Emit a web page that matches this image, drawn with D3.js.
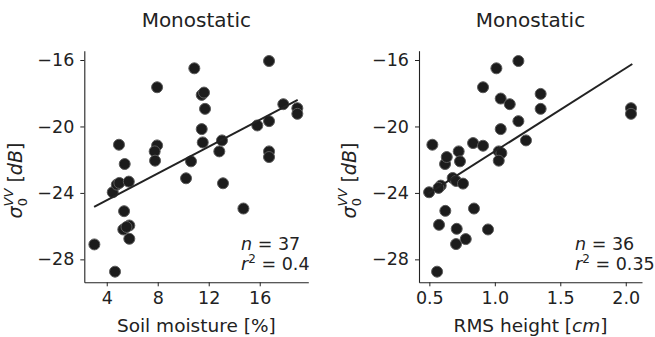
<!DOCTYPE html>
<html><head><meta charset="utf-8">
<script src="https://cdn.jsdelivr.net/npm/d3@7"></script>
<style>
body{margin:0;background:#fff;}
svg{display:block;font-family:"DejaVu Sans",sans-serif;}
</style></head>
<body>
<svg id="chart" width="655" height="337"></svg>
<script>
// ---- data ----
const soilMoisture = [3.03,4.65,4.47,4.79,4.99,4.96,5.41,5.73,5.36,5.30,5.77,5.77,5.55,7.95,7.95,7.76,7.79,10.87,10.22,10.61,11.45,11.63,11.71,11.45,11.53,13.04,12.83,13.12,14.72,15.81,16.73,16.73,16.73,16.73,17.85,18.95,18.95];
const sigmaSoil    = [-27.1,-28.74,-23.96,-23.5,-23.4,-21.1,-22.26,-23.32,-25.1,-26.2,-25.96,-26.76,-26.05,-17.64,-21.14,-21.5,-22.06,-16.5,-23.12,-22.1,-18.1,-17.96,-18.94,-20.16,-20.96,-20.84,-21.5,-23.42,-24.94,-19.94,-16.06,-19.68,-21.5,-21.84,-18.66,-18.9,-19.24];
const rmsHeight = [0.498,0.523,0.559,0.574,0.587,0.570,0.622,0.620,0.633,0.678,0.704,0.709,0.704,0.724,0.734,0.757,0.778,0.834,0.841,0.910,0.910,0.948,1.012,1.045,1.045,1.030,1.050,1.030,1.114,1.180,1.180,1.238,1.350,1.350,2.040,2.040];
const sigmaRms  = [-23.96,-21.1,-28.74,-25.92,-23.56,-23.7,-25.08,-22.26,-21.84,-23.1,-23.28,-26.16,-27.08,-21.5,-22.1,-23.44,-26.78,-21.0,-24.94,-17.64,-21.16,-26.2,-16.5,-18.32,-20.16,-21.5,-21.6,-22.06,-18.66,-16.06,-19.68,-20.84,-18.04,-18.94,-18.9,-19.24];
const fitSoilX = [3.01, 18.98], fitSoilY = [-24.84, -18.40];
const fitRmsX  = [0.492, 2.05], fitRmsY  = [-24.04, -16.24];
const soilTicks = [4, 8, 12, 16];
const rmsTicks  = [0.5, 1.0, 1.5, 2.0];
const sigmaTicks = [-16, -20, -24, -28];
const titles = ["Monostatic", "Monostatic"];
const statsN = ["37", "36"];
const statsR2 = ["0.4", "0.35"];

// ---- drawing ----
const svg = d3.select("#chart");
const FS = 17.5;
const yTop = 50.7, yBot = 282.3;
const y = d3.scaleLinear().domain([-29.38, -15.44]).range([yBot, yTop]);

const panels = [
  {x0:84.3, x1:308.3, dom:[2.24,19.81], xs:soilMoisture, ys:sigmaSoil, fx:fitSoilX, fy:fitSoilY,
   ticks:soilTicks, fmt:d3.format("d"), title:titles[0], n:statsN[0], r2:statsR2[0], xlab:"soil", ylabX:22},
  {x0:419, x1:642, dom:[0.421,2.124], xs:rmsHeight, ys:sigmaRms, fx:fitRmsX, fy:fitRmsY,
   ticks:rmsTicks, fmt:d3.format(".1f"), title:titles[1], n:statsN[1], r2:statsR2[1], xlab:"rms", ylabX:356}
];
const minus = s => s.replace("-", "\u2212");

panels.forEach(p => {
  const x = d3.scaleLinear().domain(p.dom).range([p.x0, p.x1]);
  const g = svg.append("g");

  // axes
  const xa = g.append("g").attr("transform", `translate(0,${yBot})`)
    .call(d3.axisBottom(x).tickValues(p.ticks).tickFormat(d => minus(p.fmt(d))).tickSize(4).tickPadding(5).tickSizeOuter(0));
  const ya = g.append("g").attr("transform", `translate(${p.x0},0)`)
    .call(d3.axisLeft(y).tickValues(sigmaTicks).tickFormat(d => minus(d3.format("d")(d))).tickSize(4).tickPadding(6).tickSizeOuter(0));
  [xa, ya].forEach(a => {
    a.select(".domain").attr("stroke", "#222").attr("stroke-width", 1.1);
    a.selectAll(".tick line").attr("stroke", "#222").attr("stroke-width", 1);
    a.selectAll(".tick text").attr("font-size", FS).attr("fill", "#222").attr("font-family", "DejaVu Sans");
  });

  // points
  g.append("g").selectAll("circle").data(p.xs.map((v, i) => [v, p.ys[i]])).join("circle")
    .attr("cx", d => x(d[0])).attr("cy", d => y(d[1])).attr("r", 5.5)
    .attr("fill", "#1c1c1c").attr("stroke", "#5a5a5a").attr("stroke-width", 1);

  // fit line
  g.append("path").datum(p.fx.map((v, i) => [v, p.fy[i]]))
    .attr("d", d3.line().x(d => x(d[0])).y(d => y(d[1])))
    .attr("stroke", "#222").attr("stroke-width", 2).attr("fill", "none");

  // title
  g.append("text").attr("x", (p.x0 + p.x1) / 2).attr("y", 27).attr("text-anchor", "middle")
    .attr("font-size", 20).attr("fill", "#222").text(p.title);

  // stats
  const sx = p.x0 + 0.70 * (p.x1 - p.x0);
  const t1 = g.append("text").attr("x", sx).attr("y", 250).attr("font-size", FS).attr("fill", "#222");
  t1.append("tspan").attr("font-style", "italic").text("n");
  t1.append("tspan").text(" = " + p.n);
  const t2 = g.append("text").attr("x", sx).attr("y", 270).attr("font-size", FS).attr("fill", "#222");
  t2.append("tspan").attr("font-style", "italic").text("r");
  t2.append("tspan").attr("font-size", 12).attr("dy", -7).text("2");
  t2.append("tspan").attr("dy", 7).text(" = " + p.r2);

  // x label
  const xl = g.append("text").attr("x", (p.x0 + p.x1) / 2).attr("y", 332).attr("text-anchor", "middle")
    .attr("font-size", 18.5).attr("fill", "#222");
  if (p.xlab === "soil") {
    xl.text("Soil moisture [%]");
  } else {
    xl.append("tspan").text("RMS height [");
    xl.append("tspan").attr("font-style", "italic").text("cm");
    xl.append("tspan").text("]");
  }

  // y label
  const yl = g.append("text").attr("transform", `translate(${p.ylabX},${(yTop + yBot) / 2 + 14}) rotate(-90)`)
    .attr("text-anchor", "middle").attr("font-size", 19).attr("fill", "#222");
  yl.append("tspan").attr("font-style", "italic").text("\u03C3");
  yl.append("tspan").attr("font-size", 13).attr("dy", 5).text("0");
  yl.append("tspan").attr("font-size", 13).attr("font-style", "italic").attr("dx", -8.3).attr("dy", -14).text("VV");
  yl.append("tspan").attr("dy", 9).text(" [");
  yl.append("tspan").attr("font-style", "italic").text("dB");
  yl.append("tspan").text("]");
});
</script>
</body></html>
